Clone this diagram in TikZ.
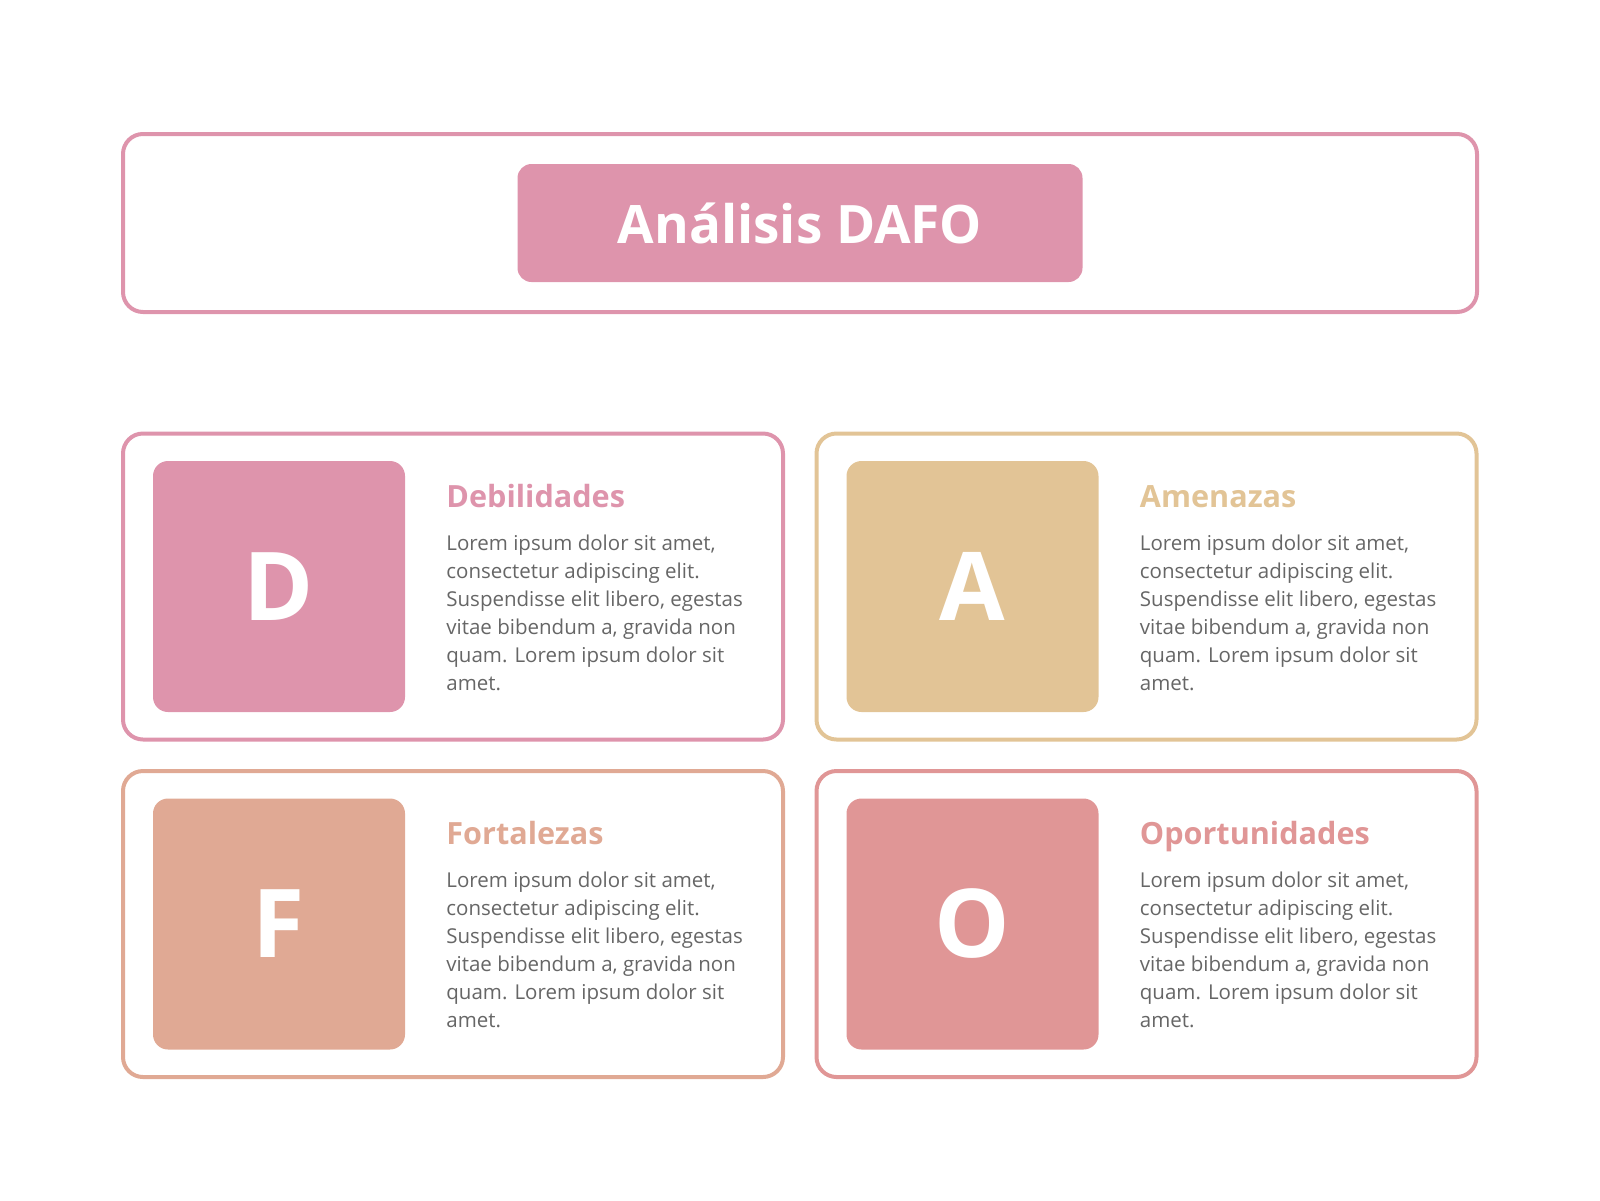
\documentclass[tikz,border=0pt]{standalone}
\usepackage{fontspec}
\setmainfont{Open Sans}
\usetikzlibrary{calc}
\definecolor{dafopink}{HTML}{DE94AC}
\definecolor{dafosand}{HTML}{E2C496}
\definecolor{dafopeach}{HTML}{E0A994}
\definecolor{daforose}{HTML}{E09696}
\definecolor{dafogray}{HTML}{666666}
\tikzset{
  cardline/.style={line width=2pt, rounded corners=10pt},
  letterbox/.style={rectangle, minimum width=126pt, minimum height=125.5pt, rounded corners=7.5pt, inner sep=0pt, text=white, font=\fontsize{47.5}{50}\selectfont\bfseries},
  headtext/.style={anchor=base west, inner sep=0pt, font=\fontsize{15.3}{17}\selectfont\bfseries},
  bodytext/.style={anchor=base west, inner sep=0pt, align=left, text=dafogray, font=\fontsize{10.25}{14}\selectfont},
  titlebox/.style={rectangle, fill=dafopink, minimum width=282.5pt, minimum height=59pt, rounded corners=7pt, text=white, font=\fontsize{26.5}{30}\selectfont\bfseries}
}
\newcommand{\dafotext}{Lorem ipsum dolor sit amet,\\ consectetur adipiscing elit.\\ Suspendisse elit libero, egestas\\ vitae bibendum a, gravida non\\ quam. Lorem ipsum dolor sit\\ amet.}
% the base of the body node is its last line
\newcommand{\dafocard}[6]{
  \draw[cardline, draw=#4] (#2,#3) rectangle ++(660,306);
  \node[letterbox, fill=#4] (#1sq) at ($(#2,#3)+(156,153)$) {#5};
  \node[headtext, text=#4] (#1head) at ($(#2,#3)+(323,73.5)$) {#6};
  \node[bodytext] (#1body) at ($(#2,#3)+(323,256.5)$) {\dafotext};
}
\begin{document}
\begin{tikzpicture}[x=0.5pt, y=-0.5pt]
\useasboundingbox (0,0) rectangle (1600,1200);
% title
\draw[cardline, draw=dafopink] (123,134) rectangle (1477,312);
\node[titlebox] (title) at (800,223) {Análisis DAFO};
% row 1 of cards
\dafocard{deb}{123}{433.5}{dafopink}{D}{Debilidades}
\dafocard{ame}{816.5}{433.5}{dafosand}{A}{Amenazas}
% row 2 of cards
\dafocard{for}{123}{771}{dafopeach}{F}{Fortalezas}
\dafocard{opo}{816.5}{771}{daforose}{O}{Oportunidades}
\end{tikzpicture}
\end{document}
